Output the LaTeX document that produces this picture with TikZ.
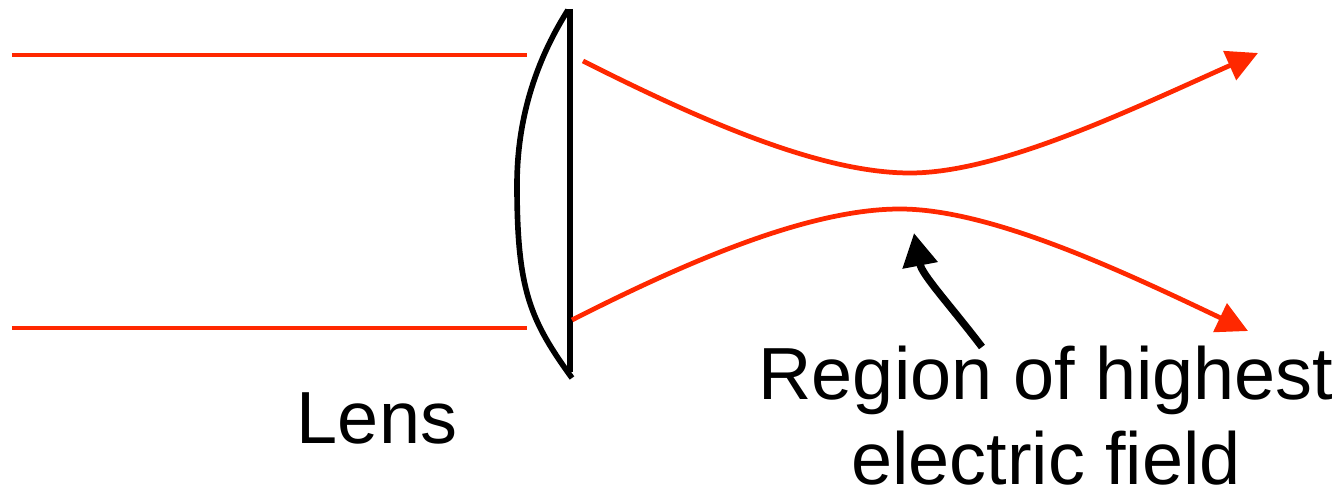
\documentclass[tikz,border=0pt]{standalone}
\usepackage{fontspec}
\setmainfont{Liberation Sans}
\usetikzlibrary{arrows.meta}
\definecolor{beamred}{RGB}{255,40,0}
\tikzset{
  beam/.style={draw=beamred, line width=1.35pt},
  beamarrow/.style={beam, -{Triangle[length=3.1mm, width=3.1mm]}},
  lensline/.style={draw=black, line width=1.6pt},
  pointer/.style={draw=black, line width=2.1pt, -{Triangle[length=3.3mm, width=3.4mm]}},
  label/.style={font=\fontsize{21}{24}\selectfont, inner sep=0pt, align=center}
}
\begin{document}
\begin{tikzpicture}[x=0.01cm, y=-0.01cm]
\useasboundingbox (0,0) rectangle (1344,494);
% coordinates
\coordinate (inTopL) at (12,55);
\coordinate (inTopR) at (527,55);
\coordinate (inBotL) at (12,328);
\coordinate (inBotR) at (527,328);
\coordinate (flatTop) at (570,9);
\coordinate (flatBot) at (570,372);
\coordinate (curveTop) at (568,10);
\coordinate (curveMid) at (517,185);
\coordinate (curveBot) at (572,378);
\coordinate (upStart) at (583,61);
\coordinate (upWaist) at (910,173);
\coordinate (upEnd) at (1258,53);
\coordinate (loStart) at (572,320);
\coordinate (loWaist) at (900,209);
\coordinate (loEnd) at (1248,331);
\coordinate (pTail) at (982,347);
\coordinate (pTip) at (914,233);
% incoming beams
\draw[beam] (inTopL) -- (inTopR);
\draw[beam] (inBotL) -- (inBotR);
% lens
\draw[lensline] (flatTop) -- (flatBot);
\draw[lensline] (curveTop) .. controls (530,70) and (517,130) .. (curveMid)
  .. controls (517,290) and (530,320) .. (curveBot);
% focused beams
\draw[beamarrow] (upStart) .. controls (700,120) and (820,173) .. (upWaist)
  .. controls (1000,173) and (1130,110) .. (upEnd);
\draw[beamarrow] (loStart) .. controls (690,260) and (810,209) .. (loWaist)
  .. controls (990,209) and (1120,270) .. (loEnd);
% pointer
\draw[pointer] (pTail) .. controls (950,305) and (922,275) .. (pTip);
% labels
\node[label, anchor=base] (lens) at (377,443) {Lens};
\node[label, anchor=base] (region) at (1046,484) {Region of highest\\electric field};
\end{tikzpicture}
\end{document}
